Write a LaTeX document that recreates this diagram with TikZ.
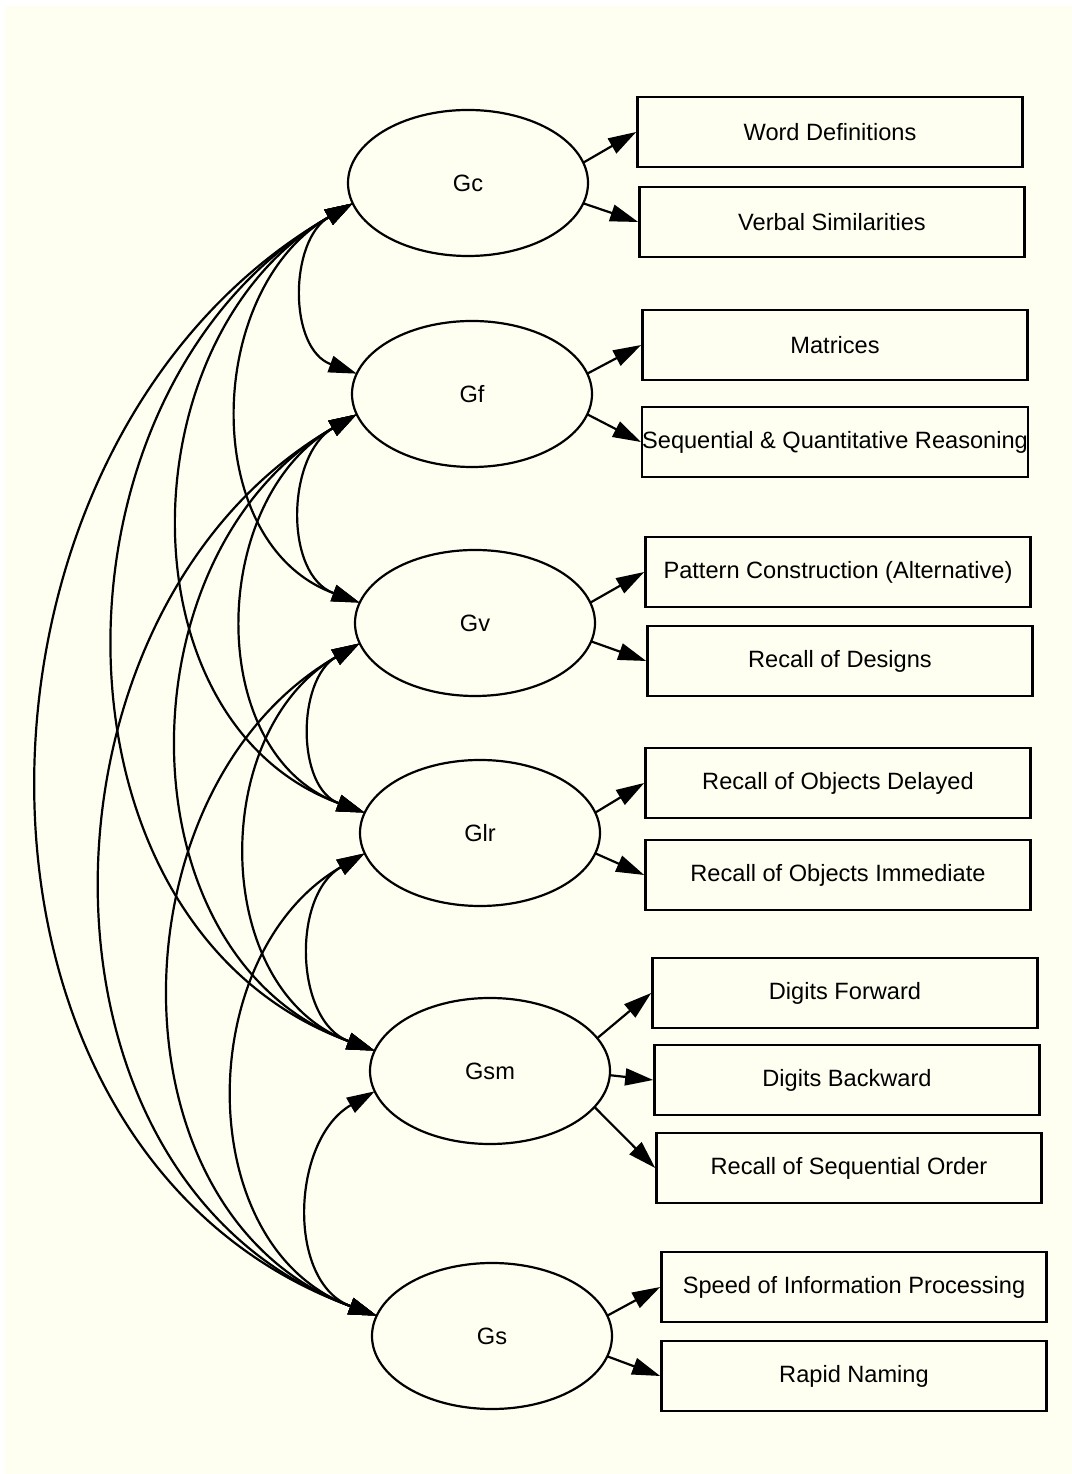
\documentclass[tikz,border=0pt]{standalone}
\usepackage{fontspec}
\setmainfont{Liberation Sans}
\usetikzlibrary{arrows.meta,shapes.geometric}
\definecolor{paper}{RGB}{254,255,240}

\begin{document}
\begin{tikzpicture}[x=0.5pt, y=0.5pt,
    font=\fontsize{11.8}{14}\selectfont,
    factor/.style={ellipse, draw, line width=1.1pt, fill=paper, minimum width=120pt, minimum height=73pt, inner sep=0pt, outer sep=0pt},
    test/.style={rectangle, draw, line width=1.3pt, fill=paper, minimum width=192.5pt, minimum height=35pt, inner sep=0pt},
    load/.style={-{Triangle[length=14pt, width=8.5pt]}, line width=1.1pt},
    cov/.style={{Triangle[length=14pt, width=8.5pt]}-{Triangle[length=14pt, width=8.5pt]}, line width=1.1pt}]
    \useasboundingbox (0,0) rectangle (1072,1474);
    \fill[paper] (5,0) rectangle (1072,1468);

    % Latent factors
    \node[factor] (Gc)  at (468,1291) {Gc};
    \node[factor] (Gf)  at (472,1080) {Gf};
    \node[factor] (Gv)  at (475,851)  {Gv};
    \node[factor] (Glr) at (480,641)  {Glr};
    \node[factor] (Gsm) at (490,403)  {Gsm};
    \node[factor] (Gs)  at (492,138)  {Gs};

    % Subtests
    \node[test] (wd)  at (830,1342) {Word Definitions};
    \node[test] (vs)  at (832,1252) {Verbal Similarities};
    \node[test] (mat) at (835,1129) {Matrices};
    \node[test] (sqr) at (835,1032) {Sequential \& Quantitative Reasoning};
    \node[test] (pc)  at (838,902)  {Pattern Construction (Alternative)};
    \node[test] (rd)  at (840,813)  {Recall of Designs};
    \node[test] (rod) at (838,691)  {Recall of Objects Delayed};
    \node[test] (roi) at (838,599)  {Recall of Objects Immediate};
    \node[test] (dfw) at (845,481)  {Digits Forward};
    \node[test] (dbw) at (847,394)  {Digits Backward};
    \node[test] (rso) at (849,306)  {Recall of Sequential Order};
    \node[test] (sip) at (854,187)  {Speed of Information Processing};
    \node[test] (rn)  at (854,98)   {Rapid Naming};

    % Loadings
    \draw[load] (Gc.10) -- (wd.west);
    \draw[load] (Gc.-10) -- (vs.west);
    \draw[load] (Gf.10) -- (mat.west);
    \draw[load] (Gf.-10) -- (sqr.west);
    \draw[load] (Gv.10) -- (pc.west);
    \draw[load] (Gv.-9) -- (rd.west);
    \draw[load] (Glr.10) -- (rod.west);
    \draw[load] (Glr.-10) -- (roi.west);
    \draw[load] (Gsm.17) -- (dfw.west);
    \draw[load] (Gsm.-2) -- (dbw.west);
    \draw[load] (Gsm.-19) -- (rso.west);
    \draw[load] (Gs.10) -- (sip.west);
    \draw[load] (Gs.-10) -- (rn.west);

    % Factor covariances
    \draw[cov] (Gc.190) to[out=210, in=160, looseness=1.1] (Gf.170);
    \draw[cov] (Gc.190) to[out=210, in=160, looseness=1.1] (Gv.170);
    \draw[cov] (Gc.190) to[out=210, in=160, looseness=1.1] (Glr.170);
    \draw[cov] (Gc.190) to[out=210, in=160, looseness=1.1] (Gsm.170);
    \draw[cov] (Gc.190) to[out=210, in=160, looseness=1.1] (Gs.170);
    \draw[cov] (Gf.190) to[out=210, in=160, looseness=1.1] (Gv.170);
    \draw[cov] (Gf.190) to[out=210, in=160, looseness=1.1] (Glr.170);
    \draw[cov] (Gf.190) to[out=210, in=160, looseness=1.1] (Gsm.170);
    \draw[cov] (Gf.190) to[out=210, in=160, looseness=1.1] (Gs.170);
    \draw[cov] (Gv.190) to[out=210, in=160, looseness=1.1] (Glr.170);
    \draw[cov] (Gv.190) to[out=210, in=160, looseness=1.1] (Gsm.170);
    \draw[cov] (Gv.190) to[out=210, in=160, looseness=1.1] (Gs.170);
    \draw[cov] (Glr.190) to[out=210, in=160, looseness=1.1] (Gsm.170);
    \draw[cov] (Glr.190) to[out=210, in=160, looseness=1.1] (Gs.170);
    \draw[cov] (Gsm.190) to[out=210, in=160, looseness=1.1] (Gs.170);
\end{tikzpicture}
\end{document}
